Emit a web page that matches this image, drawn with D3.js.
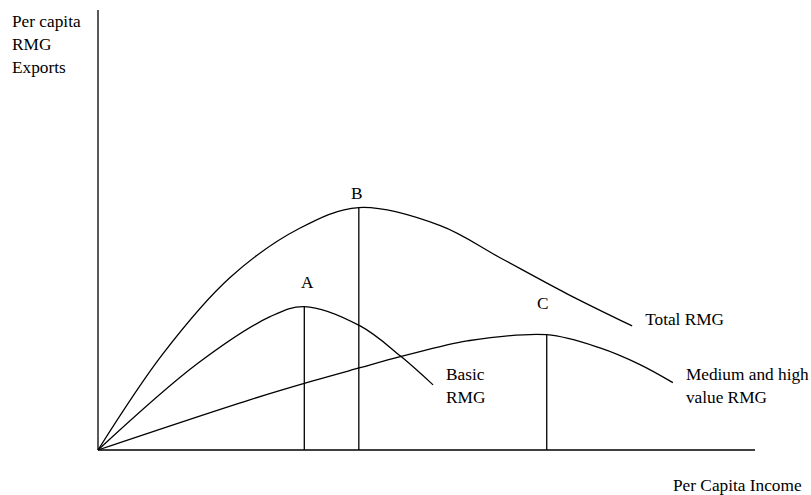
<!DOCTYPE html>
<html>
<head>
<meta charset="utf-8">
<script src="https://cdn.jsdelivr.net/npm/d3@7"></script>
<style>
  body { margin: 0; background: #fff; }
  svg text { font-family: "Liberation Serif", "Times New Roman", serif; font-size: 17.3px; fill: #000; }
</style>
</head>
<body>
<div id="graf"></div>
<script>
// datos (unidades relativas: ingreso 0-100, exportaciones 0-100)
totalX  = [0, 9.9, 20.1, 30.7, 39.7, 52.1, 61.2, 71.4, 81.3]
totalY  = [0, 21.9, 39.2, 50.4, 55.1, 51.0, 43.7, 35.5, 28.2]

basicX  = [0, 15.1, 26.2, 31.4, 39.9, 46.0, 51.0]
basicY  = [0, 19.6, 30.3, 32.6, 28.2, 21.4, 14.8]

mediumX = [0, 23.1, 32.7, 39.9, 46.0, 52.1, 56.2, 68.3, 76.4, 82.5, 87.5]
mediumY = [0, 11.4, 15.7, 18.7, 21.2, 23.5, 24.8, 26.2, 23.2, 19.4, 15.3]

seriesLabels = [['Total RMG'], ['Basic', 'RMG'], ['Medium and high', 'value RMG']]

// puntos A, B, C (maximos de cada curva)
peakNames  = ['A', 'B', 'C']
peakSeries = [1, 0, 2]
peakIndex  = [3, 4, 7]

yTitle = ['Per capita', 'RMG', 'Exports']
xTitle = 'Per Capita Income'

// Configuracion de margenes y altura
ancho_total = 811
alto_total = 495
margins = { top: 10, left: 98, right: 56, bottom: 45 }
ancho = ancho_total - margins.left - margins.right
alto  = alto_total - margins.top - margins.bottom

svg = d3.select('#graf').append('svg')
        .attr('width', ancho_total)
        .attr('height', alto_total)

g = svg.append('g')
       .attr('transform', `translate(${ margins.left }, ${ margins.top })`)

x = d3.scaleLinear().domain([0, 100]).range([0, ancho])
y = d3.scaleLinear().domain([0, 100]).range([alto, 0])

series = [
  d3.zip(totalX, totalY),
  d3.zip(basicX, basicY),
  d3.zip(mediumX, mediumY)
]

// ejes (solo las lineas)
g.append('line')
  .attr('x1', x(0)).attr('y1', y(0))
  .attr('x2', x(0)).attr('y2', y(100))
  .attr('stroke', '#000').attr('stroke-width', 1.3)
g.append('line')
  .attr('x1', x(0)).attr('y1', y(0))
  .attr('x2', x(100)).attr('y2', y(0))
  .attr('stroke', '#000').attr('stroke-width', 1.3)

line = d3.line()
  .x(d => x(d[0]))
  .y(d => y(d[1]))
  .curve(d3.curveCatmullRom.alpha(0.5))

g.selectAll('path.serie')
  .data(series)
  .enter()
  .append('path')
    .attr('class', 'serie')
    .attr('d', line)
    .attr('fill', 'none')
    .attr('stroke', '#000')
    .attr('stroke-width', 1.3)

// lineas verticales desde los maximos
peaks = peakNames.map((n, i) => ({ name: n, p: series[peakSeries[i]][peakIndex[i]] }))
peakOffsets = [{ dx: 3, dy: -19 }, { dx: -2, dy: -9 }, { dx: -4, dy: -26 }]

g.selectAll('line.pico')
  .data(peaks)
  .enter()
  .append('line')
    .attr('class', 'pico')
    .attr('x1', d => x(d.p[0])).attr('x2', d => x(d.p[0]))
    .attr('y1', y(0)).attr('y2', d => y(d.p[1]))
    .attr('stroke', '#000')
    .attr('stroke-width', 1.3)

g.selectAll('text.pico')
  .data(peaks)
  .enter()
  .append('text')
    .attr('class', 'pico')
    .attr('text-anchor', 'middle')
    .attr('x', (d, i) => x(d.p[0]) + peakOffsets[i].dx)
    .attr('y', (d, i) => y(d.p[1]) + peakOffsets[i].dy)
    .text(d => d.name)

// etiquetas de las series, al final de cada curva
labelDy = [-1, -5, -3]
series.forEach((s, i) => {
  last = s[s.length - 1]
  t = g.append('text')
    .attr('x', x(last[0]) + 13)
    .attr('y', y(last[1]) + labelDy[i])
  seriesLabels[i].forEach((l, j) => {
    t.append('tspan')
      .attr('x', x(last[0]) + 13)
      .attr('dy', j == 0 ? 0 : 23)
      .text(l)
  })
})

// titulos de ejes
yt = svg.append('text').attr('x', 12).attr('y', 27)
yTitle.forEach((l, j) => {
  yt.append('tspan').attr('x', 12).attr('dy', j == 0 ? 0 : 23).text(l)
})
svg.append('text')
  .attr('x', 673)
  .attr('y', 491)
  .text(xTitle)
</script>
</body>
</html>
